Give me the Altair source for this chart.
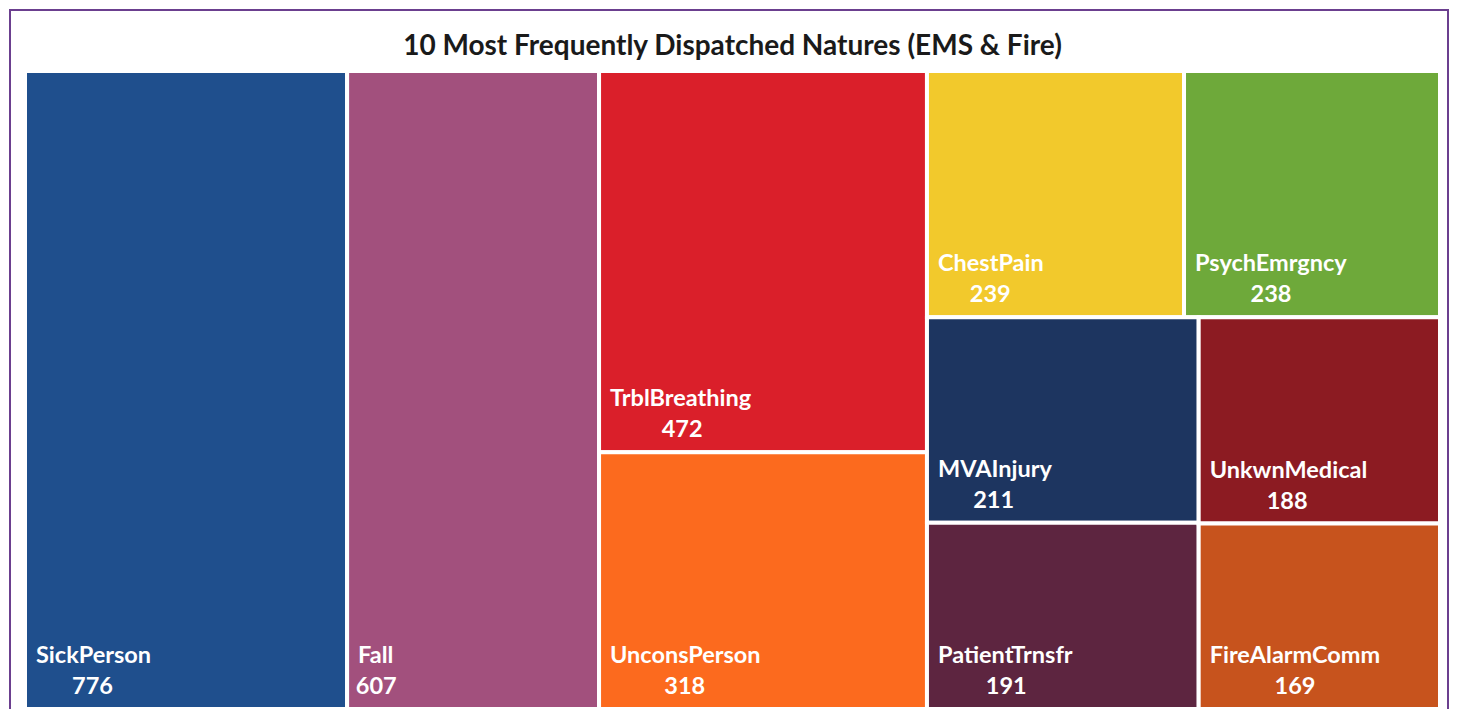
import altair as alt
import pandas as pd

# ---- data ----
names = ["SickPerson", "Fall", "TrblBreathing", "UnconsPerson", "ChestPain",
         "PsychEmrgncy", "MVAInjury", "PatientTrnsfr", "UnkwnMedical", "FireAlarmComm"]
counts = [776, 607, 472, 318, 239, 238, 211, 191, 188, 169]
colors = ["#1F4F8D", "#A2507D", "#DA1F2A", "#FC6A1E", "#F2C92C",
          "#6EA93A", "#1D3560", "#5D2540", "#8C1B22", "#C7531D"]
title = "10 Most Frequently Dispatched Natures (EMS & Fire)"

# ---- plot geometry ----
W, H = 1415, 638
FONT = "Lato"
FS = 23.5


def worst(row, side):
    s = sum(row)
    return max(max(side * side * r / (s * s), s * s / (side * side * r)) for r in row)


def treemap(areas, x, y, w, h, good=2.6):
    """Squarified strips; a strip is closed once it is square enough."""
    out = []
    items = list(areas)
    while items:
        side = min(w, h)
        row = [items[0]]
        i = 1
        while i < len(items):
            cur = worst(row, side)
            if cur <= good:
                break
            new = worst(row + [items[i]], side)
            if new > cur:
                break
            row.append(items[i])
            i += 1
        items = items[i:]
        s = sum(row)
        if w >= h:
            cw = s / h
            yy = y
            for r in row:
                rh = r / cw
                out.append((x, yy, x + cw, yy + rh))
                yy += rh
            x += cw
            w -= cw
        else:
            rh = s / w
            xx = x
            for r in row:
                rw = r / rh
                out.append((xx, y, xx + rw, y + rh))
                xx += rw
            y += rh
            h -= rh
    return out


CW = {**{c: .57 for c in "abdghnopqu"}, "a": .52, "c": .46, "e": .53, "f": .33, "i": .25,
      "j": .25, "k": .52, "l": .25, "m": .86, "r": .37, "s": .43, "t": .35, "v": .52,
      "w": .77, "x": .51, "y": .52, "z": .46,
      "A": .66, "B": .63, "C": .64, "D": .72, "E": .55, "F": .52, "I": .28, "M": .88,
      "P": .59, "S": .52, "T": .58, "U": .70, "V": .64}


def text_w(s):
    return sum(CW.get(ch, .58) for ch in s) * FS


total = sum(counts)
areas = [c * W * H / total for c in counts]
rects = treemap(areas, 0, 0, W, H)

df = pd.DataFrame({
    "name": names,
    "count": counts,
    "color": colors,
    "x0": [r[0] for r in rects],
    "y0": [r[1] for r in rects],
    "x1": [r[2] for r in rects],
    "y1": [r[3] for r in rects],
})
df["lx"] = df["x0"] + 11
df["vx"] = df["lx"] + df["name"].map(text_w) / 2

xs = alt.Scale(domain=[0, W], nice=False, zero=False)
ys = alt.Scale(domain=[0, H], nice=False, zero=False, reverse=True)

base = alt.Chart(df)

frame = alt.Chart(pd.DataFrame({"k": [0]})).mark_rect(
    fillOpacity=0, stroke="#6B3F8F", strokeWidth=2
).encode(x=alt.value(-15), x2=alt.value(1423), y=alt.value(-61), y2=alt.value(720))

cells = base.mark_rect(stroke="white", strokeWidth=4).encode(
    x=alt.X("x0:Q", scale=xs, axis=None), x2="x1:Q",
    y=alt.Y("y0:Q", scale=ys, axis=None), y2="y1:Q",
    color=alt.Color("color:N", scale=None, legend=None),
)

lab_name = base.mark_text(
    align="left", baseline="alphabetic", dy=-46, color="white",
    font=FONT, fontWeight="bold", fontSize=FS
).encode(x=alt.X("lx:Q", scale=xs), y=alt.Y("y1:Q", scale=ys), text="name:N")

lab_val = base.mark_text(
    align="center", baseline="alphabetic", dy=-15, color="white",
    font=FONT, fontWeight="bold", fontSize=FS
).encode(x=alt.X("vx:Q", scale=xs), y=alt.Y("y1:Q", scale=ys), text="count:Q")

ttl = alt.Chart(pd.DataFrame({"t": [title]})).mark_text(
    align="center", baseline="alphabetic", font=FONT, fontWeight="bold",
    fontSize=28, color="#1A1A1A"
).encode(x=alt.value(W / 2), y=alt.value(-16), text="t:N")

chart = alt.layer(frame, cells, lab_name, lab_val, ttl).properties(
    width=W, height=H,
    autosize=alt.AutoSizeParams(type="none"),
    padding={"left": 17, "top": 63, "right": 9, "bottom": 0},
    background="white",
).configure_view(strokeWidth=0)

chart.save("out.html", embed_options={"renderer": "svg", "actions": False})
